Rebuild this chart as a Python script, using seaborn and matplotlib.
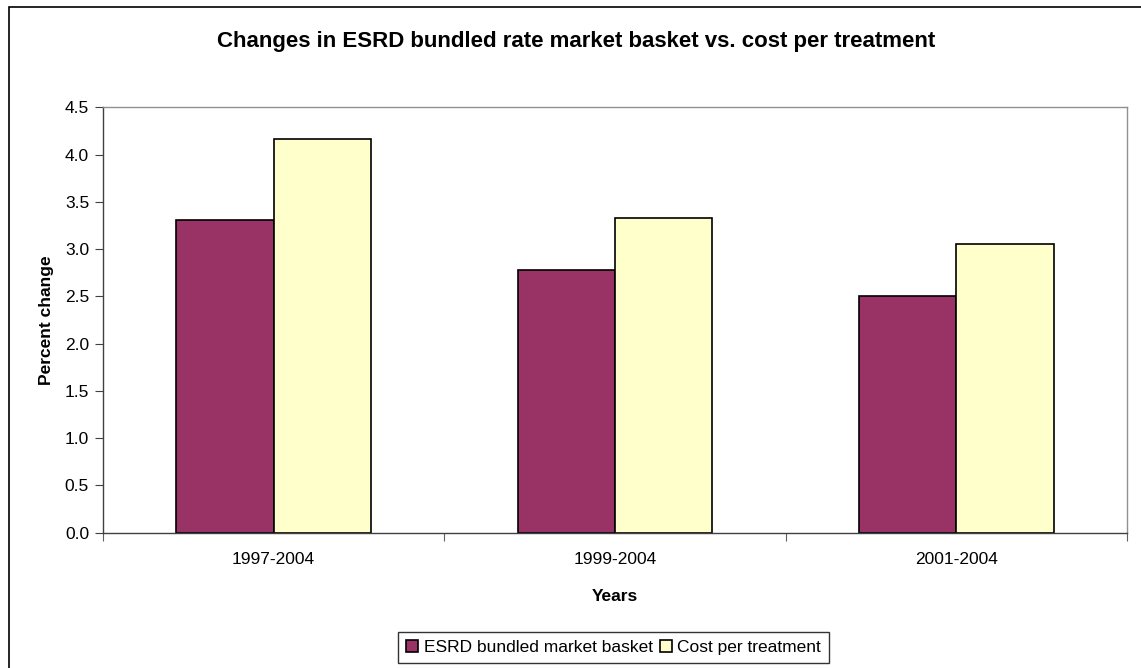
import matplotlib
matplotlib.use("Agg")
import matplotlib.pyplot as plt
import matplotlib.patches as mpatches
import seaborn as sns
import pandas as pd

periods = ["1997-2004", "1999-2004", "2001-2004"]
esrd_basket = [3.31, 2.78, 2.50]
cost_per_treatment = [4.17, 3.33, 3.05]
series_names = ["ESRD bundled market basket", "Cost per treatment"]
yticks = [0.0, 0.5, 1.0, 1.5, 2.0, 2.5, 3.0, 3.5, 4.0, 4.5]

df = pd.DataFrame({
    "Years": periods * 2,
    "value": esrd_basket + cost_per_treatment,
    "series": [series_names[0]] * 3 + [series_names[1]] * 3,
})

sns.set_style("white")
plt.rcParams["font.family"] = ["Liberation Sans", "DejaVu Sans"]
plt.rcParams["text.color"] = "black"
plt.rcParams["axes.labelcolor"] = "black"
plt.rcParams["xtick.color"] = "black"
plt.rcParams["ytick.color"] = "black"

fig = plt.figure(figsize=(11.41, 6.68), dpi=100)
ax = fig.add_axes([103 / 1141, 1 - 532.6 / 668, (1127 - 103) / 1141, (532.6 - 107.4) / 668])

sns.barplot(data=df, x="Years", y="value", hue="series",
            palette=["#993366", "#FFFFCC"], saturation=1, width=0.57, gap=0,
            edgecolor="black", linewidth=1.2, ax=ax, legend=True)

ax.set_ylim(0, 4.5)
ax.set_xlim(-0.5, 2.5)
ax.set_yticks(yticks)
ax.set_yticklabels([f"{v:.1f}" for v in yticks], fontsize=12.5)
ax.set_xticks([-0.5, 0.5, 1.5, 2.5])
ax.set_xticklabels([])
ax.set_xticks([0, 1, 2], minor=True)
ax.set_xticklabels(periods, minor=True, fontsize=12.5)
ax.tick_params(axis="x", which="major", length=6, width=0.8, color="#606060", direction="out", bottom=True)
ax.tick_params(axis="x", which="minor", length=0, pad=14)
ax.tick_params(axis="y", length=6, width=0.8, color="#404040", direction="out", left=True, pad=4)

for s in ["left", "bottom"]:
    ax.spines[s].set_color("#404040")
    ax.spines[s].set_linewidth(1.0)
for s in ["top", "right"]:
    ax.spines[s].set_color("#909090")
    ax.spines[s].set_linewidth(1.0)

ax.set_xlabel("Years", fontsize=12.5, fontweight="bold", labelpad=16)
ax.set_ylabel("Percent change", fontsize=12.5, fontweight="bold", labelpad=8)

fig.text(576.5 / 1141, 1 - 42 / 668, "Changes in ESRD bundled rate market basket vs. cost per treatment",
         ha="center", va="center", fontsize=16, fontweight="bold")

handles, labels = ax.get_legend_handles_labels()
ax.get_legend().remove()
leg = fig.legend(handles, labels, loc="upper center", bbox_to_anchor=(613.5 / 1141, 1 - 632 / 668),
                 ncol=2, frameon=True, fancybox=False, fontsize=12.5, handlelength=0.7,
                 handleheight=0.7, handletextpad=0.3, columnspacing=0.4, borderpad=0.45,
                 borderaxespad=0)
leg.get_frame().set_edgecolor("black")
leg.get_frame().set_linewidth(1.0)

border = mpatches.Rectangle((9 / 1141, -0.1), 1.2, 1 - 7 / 668 + 0.1, transform=fig.transFigure,
                            fill=False, edgecolor="black", linewidth=1.2)
fig.patches.append(border)

fig.savefig("out.png", dpi=100)
